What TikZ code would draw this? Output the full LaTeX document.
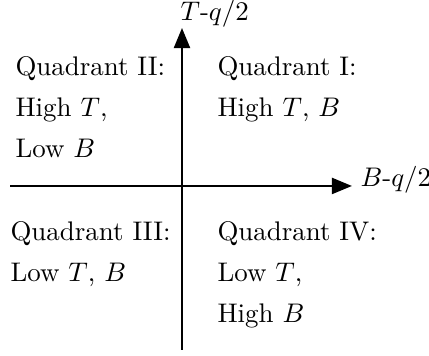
\documentclass[tikz,border=0pt]{standalone}
\usetikzlibrary{arrows.meta, positioning}

\begin{document}
\begin{tikzpicture}[
  axisline/.style={line width=0.8pt, -{Triangle[length=7.5pt,width=6pt]}},
  quadtext/.style={anchor=base west, inner sep=0pt, align=left},
  axislabel/.style={anchor=base west, inner sep=0pt}]
\useasboundingbox (-2.377,-2.220) rectangle (3.226,2.429);
% axes
\coordinate (ybot) at (0,-2.142);
\coordinate (ytop) at (0,2.063);
\coordinate (xleft) at (-2.246,0);
\coordinate (xright) at (2.220,0);
\draw[axisline] (ybot) -- (ytop);
\draw[axisline] (xleft) -- (xright);
\node[axislabel] (ylab) at (-0.026,2.160) {$T$-$q/2$};
\node[axislabel] (xlab) at (2.325,-0.013) {$B$-$q/2$};
% quadrants (base = last line)
\node[quadtext] (quadI) at (0.457,0.901) {Quadrant I:\\[3.3pt] High $T$, $B$};
\node[quadtext] (quadII) at (-2.181,0.366) {Quadrant II:\\[3.3pt] High $T$,\\[3.3pt] Low $B$};
\node[quadtext] (quadIII) at (-2.246,-1.254) {Quadrant III:\\[3.3pt] Low $T$, $B$};
\node[quadtext] (quadIV) at (0.457,-1.789) {Quadrant IV:\\[3.3pt] Low $T$,\\[3.3pt] High $B$};
\end{tikzpicture}
\end{document}
